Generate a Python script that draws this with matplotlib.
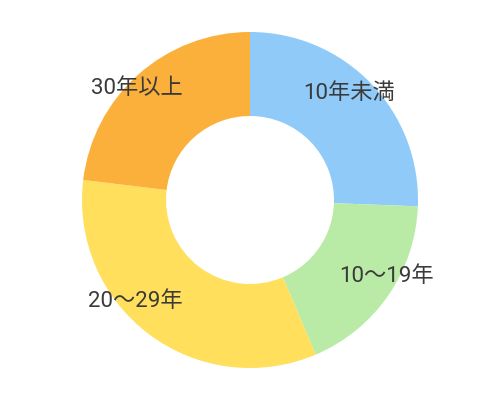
import matplotlib
matplotlib.use("Agg")
import matplotlib.pyplot as plt

plt.rcParams['font.family'] = ['Roboto', 'Noto Sans CJK JP', 'DejaVu Sans']

categories = ["10年未満", "10～19年", "20～29年", "30年以上"]
values = [25.6, 18.0, 33.3, 23.1]
colors = ["#90CAF9", "#B9EBA6", "#FFDF5C", "#FBB03C"]

# label placement (layout, in radius units)
label_pos = [(0.589, 0.631), (0.814, -0.457), (-0.685, -0.607), (-0.676, 0.661)]

W, H, R = 500, 400, 168.0
fig = plt.figure(figsize=(5, 4), dpi=100)
ax = fig.add_axes([0, 0, 1, 1])
ax.pie(values, colors=colors, startangle=90, counterclock=False, radius=1.0,
       wedgeprops=dict(width=0.5, linewidth=0, antialiased=True))
for (x, y), lab in zip(label_pos, categories):
    ax.text(x, y, lab, ha='center', va='center', fontsize=16, color='#3a3a3a',
            fontweight='normal')
ax.set_xlim(-W / 2 / R, W / 2 / R)
ax.set_ylim(-H / 2 / R, H / 2 / R)
ax.set_aspect('equal')
ax.axis('off')
fig.savefig("out.png", dpi=100, facecolor='white')
